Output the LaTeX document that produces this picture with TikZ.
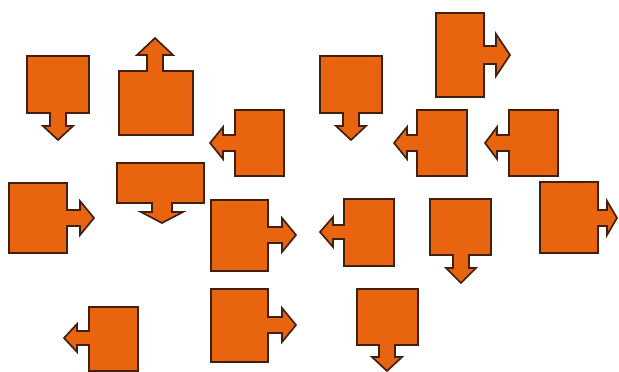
\documentclass[tikz,border=0pt]{standalone}
\definecolor{boxfill}{RGB}{232,100,14}
\definecolor{boxline}{RGB}{65,32,15}
\tikzset{callout/.style={fill=boxfill,draw=boxline,line width=1.7pt,line join=miter}}
% #1 x1 #2 y1 #3 x2 #4 y2 #5 centre #6 stem half width #7 head half width #8 head base #9 tip
\newcommand{\bxdown}[9]{\path[callout] (#1,#2) -- (#3,#2) -- (#3,#4) -- ({#5+#6},#4) -- ({#5+#6},#8) -- ({#5+#7},#8) -- (#5,#9) -- ({#5-#7},#8) -- ({#5-#6},#8) -- ({#5-#6},#4) -- (#1,#4) -- cycle;}
\newcommand{\bxup}[9]{\path[callout] (#1,#4) -- (#3,#4) -- (#3,#2) -- ({#5+#6},#2) -- ({#5+#6},#8) -- ({#5+#7},#8) -- (#5,#9) -- ({#5-#7},#8) -- ({#5-#6},#8) -- ({#5-#6},#2) -- (#1,#2) -- cycle;}
\newcommand{\bxright}[9]{\path[callout] (#1,#2) -- (#3,#2) -- (#3,{#5-#6}) -- (#8,{#5-#6}) -- (#8,{#5-#7}) -- (#9,#5) -- (#8,{#5+#7}) -- (#8,{#5+#6}) -- (#3,{#5+#6}) -- (#3,#4) -- (#1,#4) -- cycle;}
\newcommand{\bxleft}[9]{\path[callout] (#3,#2) -- (#1,#2) -- (#1,{#5-#6}) -- (#8,{#5-#6}) -- (#8,{#5-#7}) -- (#9,#5) -- (#8,{#5+#7}) -- (#8,{#5+#6}) -- (#1,{#5+#6}) -- (#1,#4) -- (#3,#4) -- cycle;}
\begin{document}
\begin{tikzpicture}[x=1pt,y=-1pt]
\useasboundingbox[fill=white] (0,0) rectangle (619,372);
\bxdown{27}{56}{89}{113}{58}{8}{15}{126}{140}
\bxup{119}{71}{193}{135}{155}{8}{18}{55}{38}
\bxleft{235}{110}{284}{176}{143}{8}{16}{223}{210}
\bxdown{117}{163}{204}{203}{162}{10}{21}{212}{223}
\bxdown{320}{56}{382}{113}{351}{8}{15}{126}{140}
\bxright{436}{13}{484}{97}{55}{9}{21}{496}{510}
\bxleft{417}{110}{467}{176}{143}{8}{16}{407}{394}
\bxleft{509}{110}{558}{176}{143}{8}{16}{497}{485}
\bxright{9}{183}{67}{253}{218}{8}{17}{80}{94}
\bxright{211}{200}{268}{271}{235}{8}{17}{282}{296}
\bxright{211}{289}{268}{362}{325}{8}{17}{282}{296}
\bxleft{89}{307}{138}{371}{338}{7}{14}{77}{64}
\bxleft{344}{199}{394}{266}{232}{7}{15}{333}{320}
\bxdown{430}{199}{491}{255}{461}{8}{15}{268}{283}
\bxright{540}{182}{598}{253}{218}{8}{17}{607}{617}
\bxdown{357}{289}{418}{345}{387}{8}{15}{357}{371}
\end{tikzpicture}
\end{document}
